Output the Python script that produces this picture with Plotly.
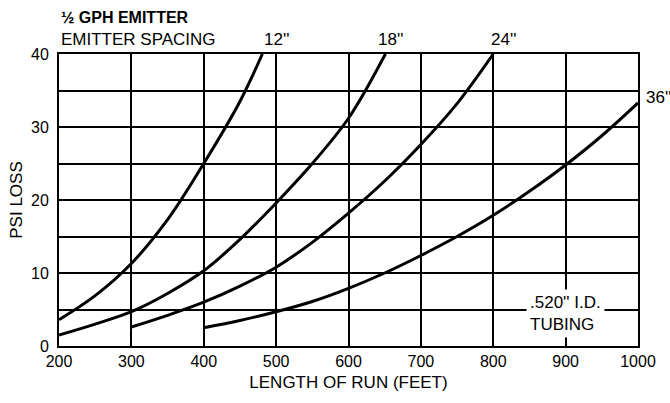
import plotly.graph_objects as go

# Data (length of run in feet, PSI loss)
len_12 = [200, 250, 300, 350, 400, 450, 481]
psi_12 = [3.6, 6.9, 11.3, 17.3, 25.0, 33.5, 40.0]

len_18 = [200, 250, 300, 350, 400, 450, 500, 550, 600, 651]
psi_18 = [1.5, 3.0, 4.7, 7.2, 10.3, 14.6, 19.6, 25.0, 31.2, 40.0]

len_24 = [300, 350, 400, 450, 500, 550, 600, 650, 700, 750, 800]
psi_24 = [2.6, 4.2, 6.0, 8.2, 10.8, 14.2, 18.2, 22.6, 27.6, 33.2, 40.0]

len_36 = [400, 450, 500, 550, 600, 650, 700, 750, 800, 850, 900, 950, 1000]
psi_36 = [2.5, 3.5, 4.7, 6.1, 7.9, 10.0, 12.4, 15.0, 17.9, 21.2, 24.8, 28.8, 33.3]

series_names = ["12''", "18''", "24''", "36''"]
x_ticks = [200, 300, 400, 500, 600, 700, 800, 900, 1000]
y_ticks = [0, 10, 20, 30, 40]

FONT = "Liberation Sans, Arial, Helvetica, sans-serif"

fig = go.Figure()
for xs, ys, nm in zip([len_12, len_18, len_24, len_36],
                      [psi_12, psi_18, psi_24, psi_36], series_names):
    fig.add_trace(go.Scatter(x=xs, y=ys, mode="lines", name=nm,
                             line=dict(color="black", width=3, shape="spline", smoothing=1.0),
                             hoverinfo="skip"))

fig.update_layout(
    width=670, height=403,
    margin=dict(l=59, r=32, t=54, b=57),
    paper_bgcolor="white", plot_bgcolor="white",
    showlegend=False,
    font=dict(family=FONT, size=16, color="black"),
    xaxis=dict(range=[200, 1000], tickvals=x_ticks, showgrid=True, gridcolor="black",
               gridwidth=2, zeroline=False, showline=True, linecolor="black", linewidth=2,
               mirror=True, ticks="", ticklabelstandoff=0, automargin=False,
               tickfont=dict(size=16),
               title=dict(text="LENGTH OF RUN (FEET)", font=dict(size=17), standoff=7)),
    yaxis=dict(range=[0, 40], tickvals=y_ticks, showgrid=True, gridcolor="black",
               gridwidth=2, zeroline=False, showline=True, linecolor="black", linewidth=2,
               mirror=True, ticks="", ticklabelstandoff=5, automargin=False,
               tickfont=dict(size=16),
               minor=dict(dtick=5, tick0=0, showgrid=True, gridcolor="black", gridwidth=2),
               title=dict(text="PSI LOSS", font=dict(size=17), standoff=4)),
)

fig.add_annotation(text="<b>½ GPH EMITTER</b>", xref="paper", yref="paper", x=0, y=1,
                   yshift=37, xanchor="left", yanchor="middle", showarrow=False,
                   font=dict(size=16, family=FONT))
fig.add_annotation(text="EMITTER SPACING", xref="paper", yref="paper", x=0, y=1,
                   yshift=15, xanchor="left", yanchor="middle", showarrow=False,
                   font=dict(size=17, family=FONT))
label_shift = [14, 5, 10]
for xs, nm, sh in zip([len_12, len_18, len_24], series_names[:3], label_shift):
    fig.add_annotation(text=nm, x=xs[-1], y=40, xshift=sh, yshift=15,
                       xanchor="center", yanchor="middle", showarrow=False,
                       font=dict(size=17, family=FONT))
fig.add_annotation(text=series_names[3], x=len_36[-1], y=psi_36[-1], xshift=6, yshift=5,
                   xanchor="left", yanchor="middle", showarrow=False,
                   font=dict(size=17, family=FONT))
fig.add_annotation(text=".520'' I.D.<br>TUBING", x=900, y=4.4, xanchor="center",
                   yanchor="middle", align="left", showarrow=False, bgcolor="white",
                   font=dict(size=17, family=FONT), borderpad=3)

fig.write_html("out.html", config={"displayModeBar": False},
               post_script="document.body.style.margin='0';document.body.style.padding='0';")
